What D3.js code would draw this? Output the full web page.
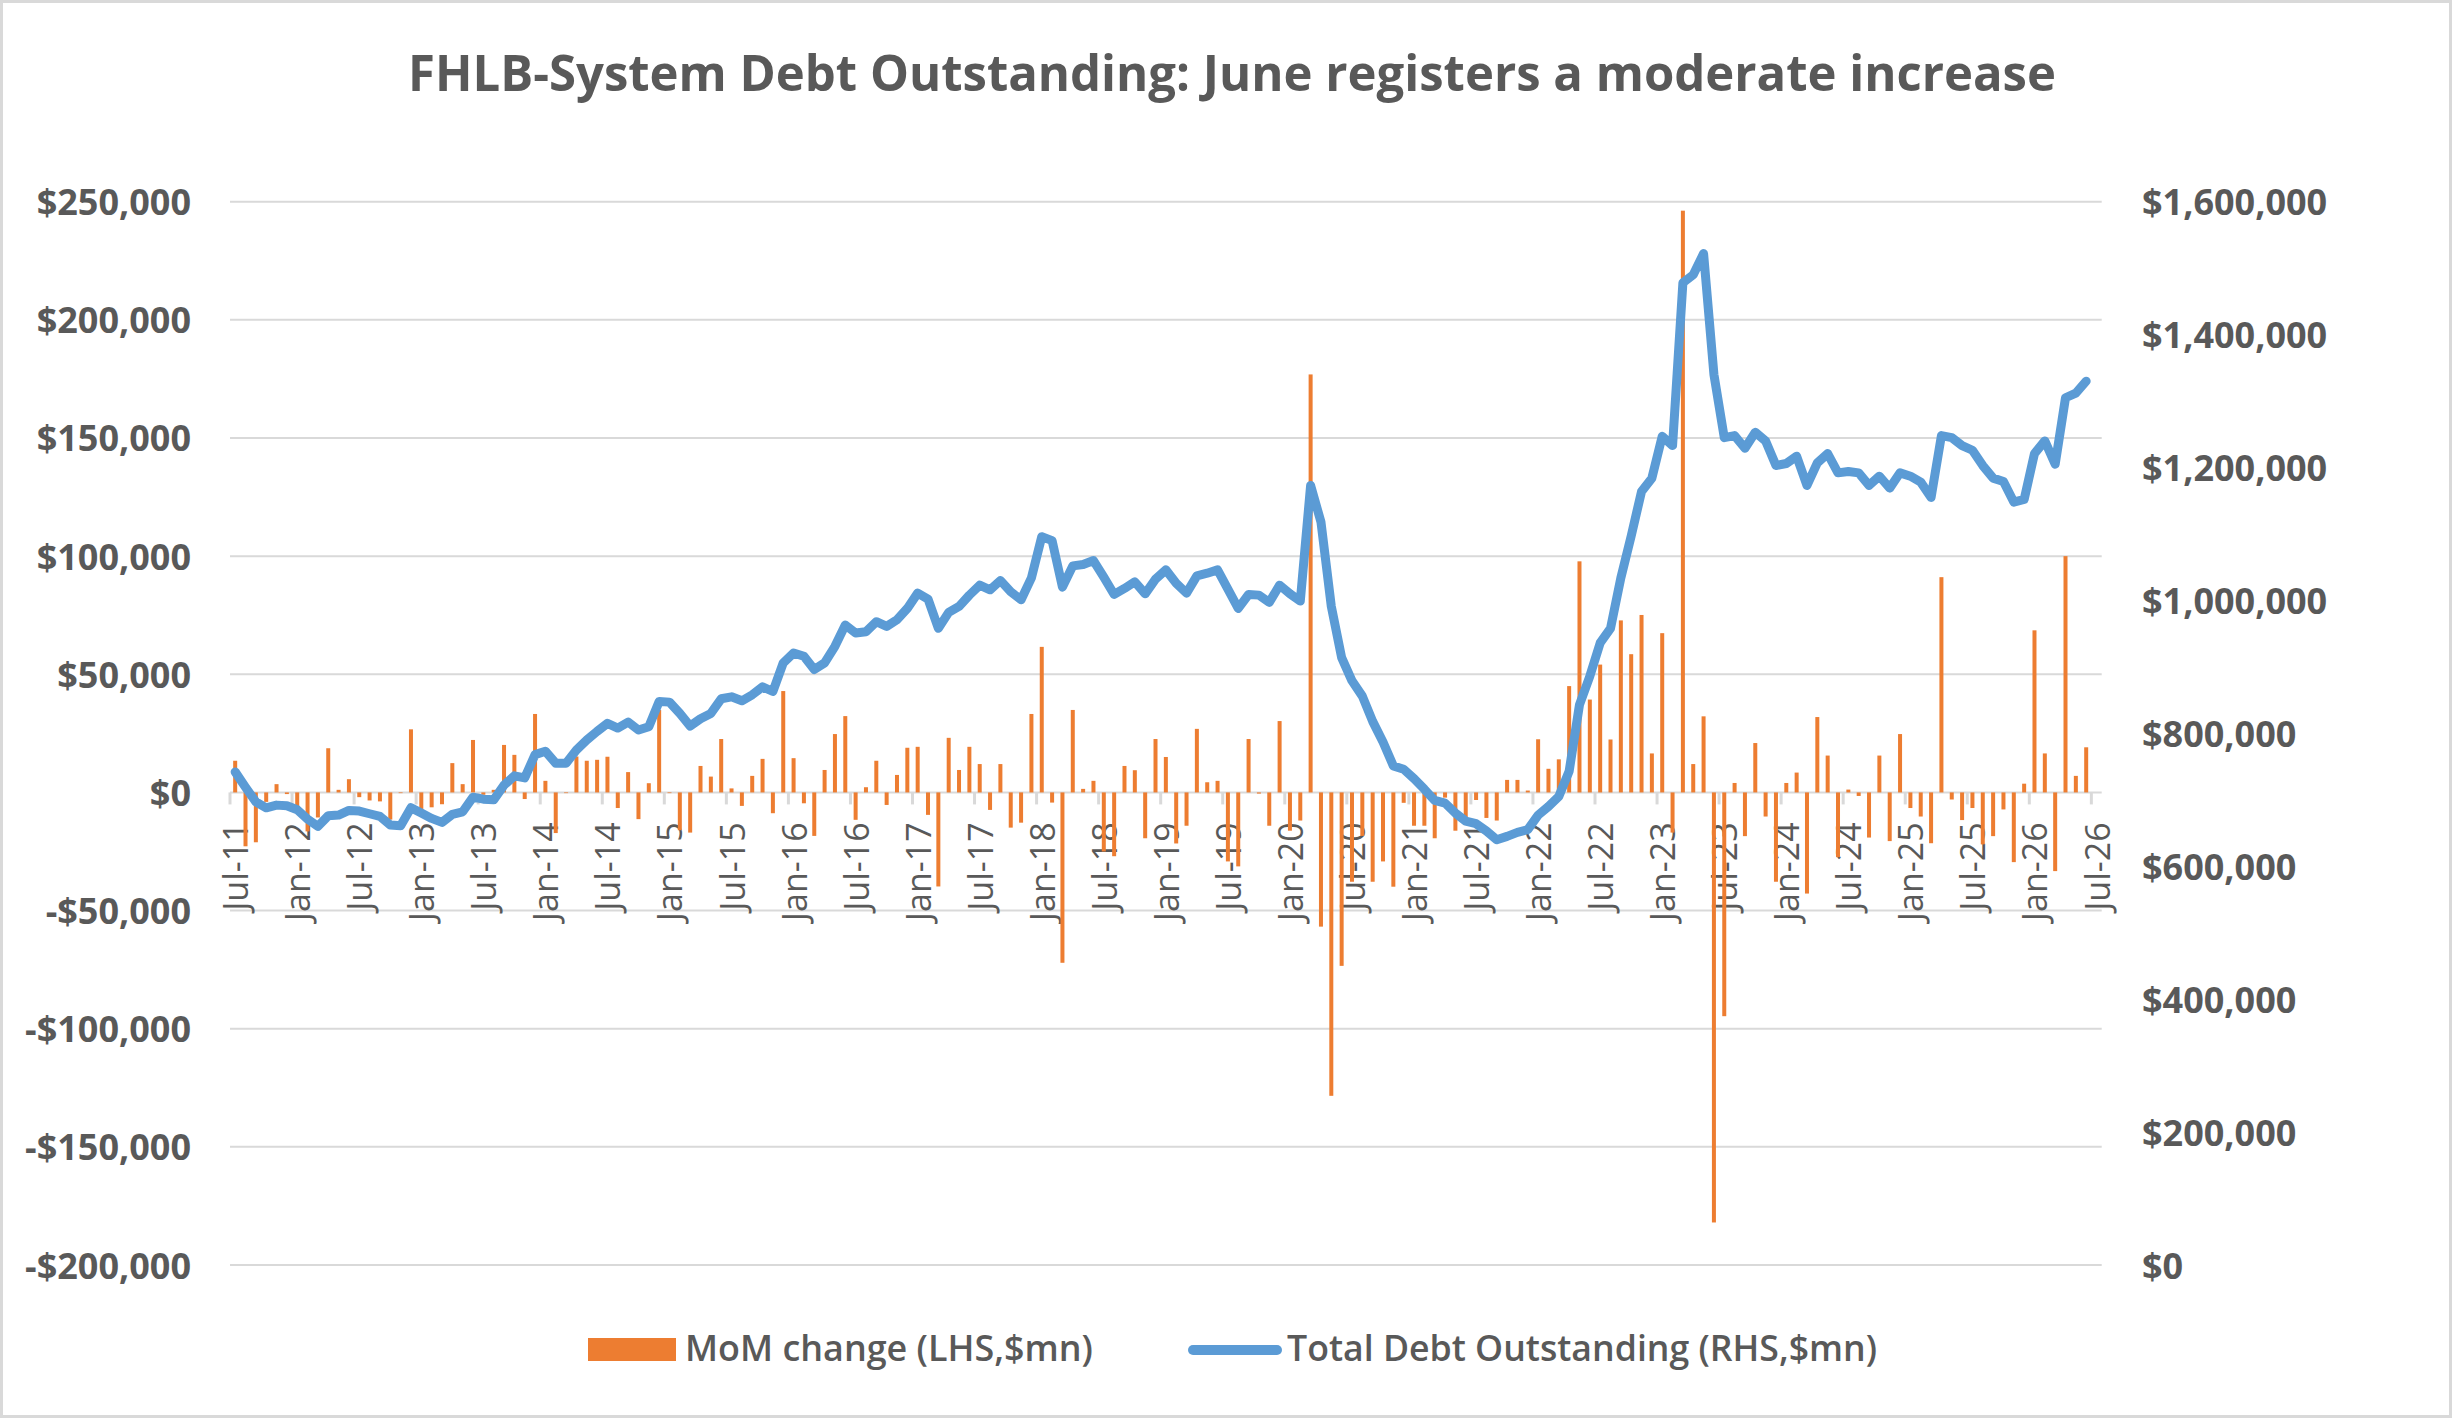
<!DOCTYPE html>
<html>
<head>
<meta charset="UTF-8">
<title>FHLB-System Debt Outstanding</title>
<script src="https://d3js.org/d3.v7.min.js"></script>
<style>
  body { margin: 0; padding: 0; background: #ffffff; }
  svg { display: block; }
  .ylab { font-family: 'Open Sans'; font-weight: bold; font-size: 36px; fill: #595959; }
  .xlab { font-family: 'Open Sans'; font-size: 34px; fill: #595959; }
  .legend_text { font-family: 'Open Sans'; font-weight: 600; font-size: 36px; fill: #595959; }
  .title { font-family: 'Open Sans'; font-weight: bold; font-size: 50px; fill: #595959; }
</style>
</head>
<body>
<svg id="chart" width="2452" height="1418"></svg>
<script>
// months on the category axis (last one has no data)
const months = [
  "Jul-11","Aug-11","Sep-11","Oct-11","Nov-11","Dec-11",
  "Jan-12","Feb-12","Mar-12","Apr-12","May-12","Jun-12","Jul-12","Aug-12","Sep-12","Oct-12","Nov-12","Dec-12",
  "Jan-13","Feb-13","Mar-13","Apr-13","May-13","Jun-13","Jul-13","Aug-13","Sep-13","Oct-13","Nov-13","Dec-13",
  "Jan-14","Feb-14","Mar-14","Apr-14","May-14","Jun-14","Jul-14","Aug-14","Sep-14","Oct-14","Nov-14","Dec-14",
  "Jan-15","Feb-15","Mar-15","Apr-15","May-15","Jun-15","Jul-15","Aug-15","Sep-15","Oct-15","Nov-15","Dec-15",
  "Jan-16","Feb-16","Mar-16","Apr-16","May-16","Jun-16","Jul-16","Aug-16","Sep-16","Oct-16","Nov-16","Dec-16",
  "Jan-17","Feb-17","Mar-17","Apr-17","May-17","Jun-17","Jul-17","Aug-17","Sep-17","Oct-17","Nov-17","Dec-17",
  "Jan-18","Feb-18","Mar-18","Apr-18","May-18","Jun-18","Jul-18","Aug-18","Sep-18","Oct-18","Nov-18","Dec-18",
  "Jan-19","Feb-19","Mar-19","Apr-19","May-19","Jun-19","Jul-19","Aug-19","Sep-19","Oct-19","Nov-19","Dec-19",
  "Jan-20","Feb-20","Mar-20","Apr-20","May-20","Jun-20","Jul-20","Aug-20","Sep-20","Oct-20","Nov-20","Dec-20",
  "Jan-21","Feb-21","Mar-21","Apr-21","May-21","Jun-21","Jul-21","Aug-21","Sep-21","Oct-21","Nov-21","Dec-21",
  "Jan-22","Feb-22","Mar-22","Apr-22","May-22","Jun-22","Jul-22","Aug-22","Sep-22","Oct-22","Nov-22","Dec-22",
  "Jan-23","Feb-23","Mar-23","Apr-23","May-23","Jun-23","Jul-23","Aug-23","Sep-23","Oct-23","Nov-23","Dec-23",
  "Jan-24","Feb-24","Mar-24","Apr-24","May-24","Jun-24","Jul-24","Aug-24","Sep-24","Oct-24","Nov-24","Dec-24",
  "Jan-25","Feb-25","Mar-25","Apr-25","May-25","Jun-25","Jul-25","Aug-25","Sep-25","Oct-25","Nov-25","Dec-25",
  "Jan-26","Feb-26","Mar-26","Apr-26","May-26","Jun-26","Jul-26"
];

// MoM change, $mn (LHS)
const momChange = [
  13400, -22800, -21100, -4000, 3500, -700,
  -6000, -16500, -10600, 18700, 1100, 5600, -2000, -3400, -3800, -11500, -300, 26700,
  -7000, -6300, -5000, 12400, 3500, 22200, -1000, 1100, 20100, 15900, -2800, 33200,
  4900, -17200, -300, 15200, 13400, 13800, 15100, -6600, 8600, -11300, 3900, 34900,
  -300, -16000, -17000, 11200, 6700, 22600, 1700, -5700, 7000, 14200, -8800, 42900,
  14500, -4600, -18400, 9500, 24700, 32300, -11600, 2200, 13400, -5300, 7400, 18900,
  19300, -9500, -39800, 23100, 9500, 19300, 12000, -7400, 12000, -14900, -12800, 33200,
  61600, -4300, -72100, 34900, 1500, 4900, -25000, -27000, 11200, 9400, -19400, 22600,
  15000, -21600, -14100, 26900, 4300, 4900, -29200, -31300, 22600, -500, -14100, 30200,
  -16200, -11900, 176900, -56800, -128400, -73400, -37800, -18400, -37800, -29200, -39900, -4400,
  -14100, -14100, -19400, -2200, -16200, -11900, -3200, -10800, -11900, 5300, 5300, 800,
  22500, 10000, 14000, 45000, 97800, 39300, 54100, 22400, 72800, 58500, 75100, 16500,
  67400, -17000, 246200, 12000, 32200, -182000, -94700, 4000, -18500, 20900, -10200, -37800,
  4000, 8400, -42800, 31900, 15600, -27400, 1200, -1500, -19100, 15600, -20600, 24700,
  -6600, -10200, -21500, 91100, -3000, -11700, -6600, -22000, -18500, -7200, -29500, 3700,
  68600, 16500, -33300, 100000, 7000, 19100
];

// Total debt outstanding, $mn (RHS)
const totalDebt = [
  742000, 719000, 697000, 688000, 692000, 691000,
  685000, 671000, 660000, 676000, 677000, 684000, 683000, 679000, 675000, 662000, 661000, 688000,
  680000, 672000, 666000, 678000, 682000, 704000, 701000, 700000, 722000, 736000, 733000, 768000,
  773000, 755000, 755000, 775000, 790000, 803000, 815000, 808000, 817000, 805000, 810000, 848000,
  847000, 830000, 811000, 822000, 830000, 852000, 855000, 849000, 858000, 870000, 863000, 906000,
  921000, 916000, 896000, 906000, 931000, 963000, 951000, 953000, 968000, 961000, 971000, 988000,
  1011000, 1002000, 958000, 982000, 991000, 1008000, 1023000, 1016000, 1030000, 1013000, 1001000, 1034000,
  1096000, 1090000, 1020000, 1052000, 1054000, 1060000, 1035000, 1009000, 1018000, 1028000, 1010000, 1032000,
  1046000, 1026000, 1011000, 1037000, 1041000, 1046000, 1017000, 988000, 1009000, 1008000, 997000, 1023000,
  1010000, 999000, 1173000, 1118000, 991000, 914000, 879000, 856000, 818000, 787000, 751000, 746000,
  732000, 716000, 699000, 695000, 680000, 668000, 664000, 653000, 640000, 645000, 651000, 655000,
  677000, 690000, 705000, 743000, 843000, 886000, 936000, 958000, 1034000, 1097000, 1164000, 1184000,
  1247000, 1233000, 1478000, 1490000, 1522000, 1340000, 1245000, 1248000, 1229000, 1253000, 1240000, 1203000,
  1206000, 1217000, 1173000, 1207000, 1221000, 1192000, 1194000, 1192000, 1173000, 1187000, 1169000, 1192000,
  1187000, 1178000, 1155000, 1248000, 1245000, 1233000, 1226000, 1203000, 1184000, 1179000, 1148000, 1152000,
  1221000, 1240000, 1205000, 1305000, 1312000, 1330000
];

const xTickLabels = [
  "Jul-11","Jan-12","Jul-12","Jan-13","Jul-13","Jan-14","Jul-14","Jan-15","Jul-15","Jan-16",
  "Jul-16","Jan-17","Jul-17","Jan-18","Jul-18","Jan-19","Jul-19","Jan-20","Jul-20","Jan-21",
  "Jul-21","Jan-22","Jul-22","Jan-23","Jul-23","Jan-24","Jul-24","Jan-25","Jul-25","Jan-26","Jul-26"
];
const leftTicks = [250000, 200000, 150000, 100000, 50000, 0, -50000, -100000, -150000, -200000];
const rightTicks = [1600000, 1400000, 1200000, 1000000, 800000, 600000, 400000, 200000, 0];

const titleText = "FHLB-System Debt Outstanding: June registers a moderate increase";
const legendBar = "MoM change (LHS,$mn)";
const legendLine = "Total Debt Outstanding (RHS,$mn)";

const orange = "#ed7d31", blue = "#5b9bd5", grid = "#d9d9d9";

let svg = d3.select("#chart");

const plotL = 230, plotR = 2101.7, plotT = 201.7, plotB = 1265;

const x = d3.scaleBand().domain(months).range([plotL, plotR]).padding(0);
const bw = x.bandwidth();
const yL = d3.scaleLinear().domain([-200000, 250000]).range([plotB, plotT]);
const yR = d3.scaleLinear().domain([0, 1600000]).range([plotB, plotT]);

const fmt = d3.format(",");
const money = v => (v < 0 ? "-$" : "$") + fmt(Math.abs(v));

// background + border
svg.append("rect").attr("x", 1.5).attr("y", 1.5).attr("width", 2449).attr("height", 1415)
  .attr("fill", "#fff").attr("stroke", grid).attr("stroke-width", 3);

// gridlines
svg.append("g").selectAll("line").data(leftTicks).enter().append("line")
  .attr("x1", plotL).attr("x2", plotR)
  .attr("y1", d => yL(d)).attr("y2", d => yL(d))
  .attr("stroke", grid).attr("stroke-width", 2);

// category tick marks at band edges
svg.append("g").selectAll("line").data(xTickLabels).enter().append("line")
  .attr("x1", d => x(d)).attr("x2", d => x(d))
  .attr("y1", yL(0)).attr("y2", yL(0) + 12)
  .attr("stroke", grid).attr("stroke-width", 3);

// category labels (drawn under the series, like the original)
svg.append("g").selectAll("text").data(xTickLabels).enter().append("text")
  .attr("class", "xlab")
  .attr("transform", d => "translate(" + (x(d) + bw / 2) + "," + (yL(0) + 30) + ") rotate(-90)")
  .attr("text-anchor", "end")
  .attr("dominant-baseline", "central")
  .text(d => d);

// bars
svg.append("g").selectAll("rect").data(momChange).enter().append("rect")
  .attr("x", (d, i) => x(months[i]) + bw / 2 - 2)
  .attr("width", 4)
  .attr("y", d => Math.min(yL(d), yL(0)))
  .attr("height", d => Math.abs(yL(d) - yL(0)))
  .attr("fill", orange);

// line
const line = d3.line()
  .x((d, i) => x(months[i]) + bw / 2)
  .y(d => yR(d));
svg.append("path").datum(totalDebt)
  .attr("d", line)
  .attr("fill", "none")
  .attr("stroke", blue)
  .attr("stroke-width", 9)
  .attr("stroke-linejoin", "round")
  .attr("stroke-linecap", "round");

// axis labels
svg.append("g").selectAll("text").data(leftTicks).enter().append("text")
  .attr("class", "ylab")
  .attr("x", 191).attr("y", d => yL(d))
  .attr("text-anchor", "end").attr("dominant-baseline", "central")
  .text(d => money(d));

svg.append("g").selectAll("text").data(rightTicks).enter().append("text")
  .attr("class", "ylab")
  .attr("x", 2142).attr("y", d => yR(d))
  .attr("text-anchor", "start").attr("dominant-baseline", "central")
  .text(d => money(d));

// title
svg.append("text").attr("class", "title")
  .attr("x", 1232).attr("y", 91).attr("text-anchor", "middle")
  .attr("textLength", 1648).attr("lengthAdjust", "spacingAndGlyphs")
  .text(titleText);

// legend
let lg = svg.append("g");
lg.append("rect").attr("x", 588).attr("y", 1338).attr("width", 88).attr("height", 23).attr("fill", orange);
lg.append("text").attr("class", "legend_text").attr("x", 685).attr("y", 1361)
  .attr("textLength", 408).attr("lengthAdjust", "spacingAndGlyphs").text(legendBar);
lg.append("line").attr("x1", 1193).attr("x2", 1277).attr("y1", 1350).attr("y2", 1350)
  .attr("stroke", blue).attr("stroke-width", 10).attr("stroke-linecap", "round");
lg.append("text").attr("class", "legend_text").attr("x", 1287).attr("y", 1361)
  .attr("textLength", 590).attr("lengthAdjust", "spacingAndGlyphs").text(legendLine);
</script>
</body>
</html>
